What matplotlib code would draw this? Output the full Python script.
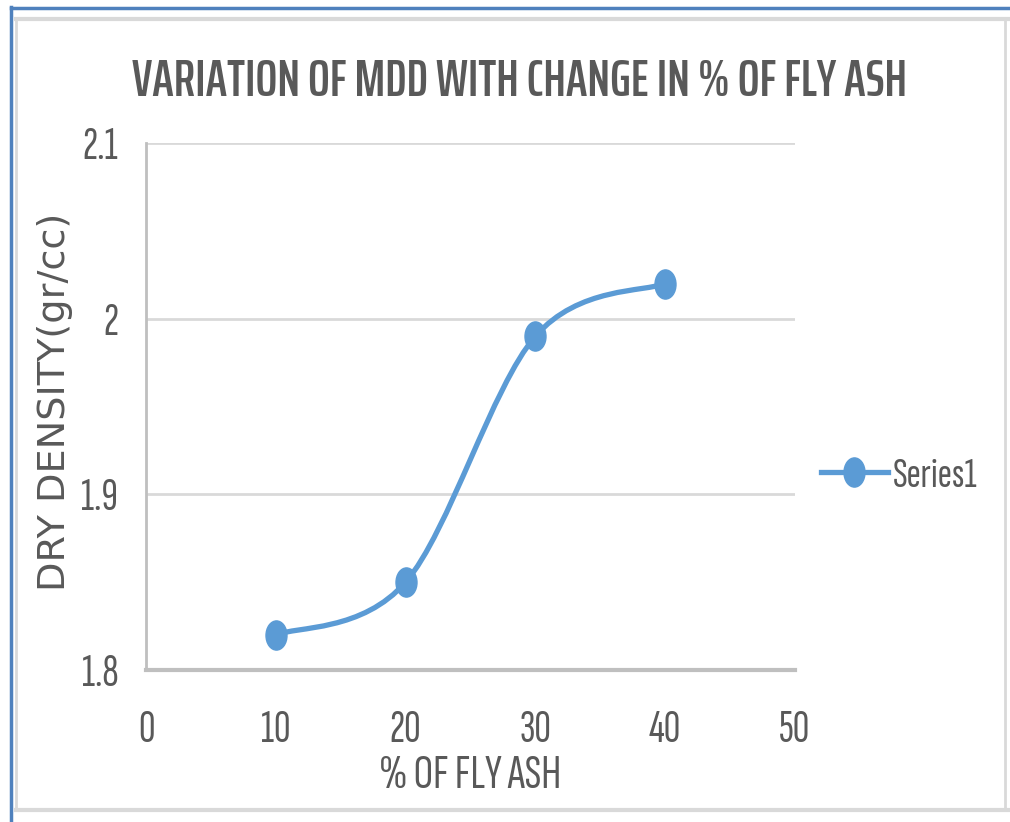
import matplotlib
matplotlib.use("Agg")
import matplotlib.pyplot as plt
from matplotlib.path import Path
from matplotlib.patches import PathPatch
from matplotlib.lines import Line2D
import matplotlib.transforms as mtransforms
import numpy as np

# Data
fly_ash_pct = [10, 20, 30, 40]
dry_density = [1.82, 1.85, 1.99, 2.02]
x_ticks = [0, 10, 20, 30, 40, 50]
y_ticks = [1.8, 1.9, 2.0, 2.1]
y_tick_labels = ["1.8", "1.9", "2", "2.1"]
title = "VARIATION OF MDD WITH CHANGE IN % OF FLY ASH"
x_label = "% OF FLY ASH"
y_label = "DRY DENSITY(gr/cc)"
series_name = "Series1"

COND = ['Sofia Sans Extra Condensed', 'Pathway Gothic One', 'Liberation Sans Narrow', 'DejaVu Sans']
TITLE_FONT = ['Saira ExtraCondensed', 'Barlow Condensed', 'DejaVu Sans']
TXT = '#595959'
BLUE = '#5B9BD5'

fig = plt.figure(figsize=(10.10, 8.22), dpi=100)
ax = fig.add_axes([146/1010, 1-670/822, (795-146)/1010, (670-143)/822])

# smoothed line (Excel-like Catmull-Rom Bezier through the data points)
pts = np.column_stack([fly_ash_pct, dry_density]).astype(float)
verts = [pts[0]]
codes = [Path.MOVETO]
n = len(pts)
for i in range(n - 1):
    p0 = pts[i - 1] if i > 0 else pts[i]
    p1 = pts[i]
    p2 = pts[i + 1]
    p3 = pts[i + 2] if i + 2 < n else pts[i + 1]
    c1 = p1 + (p2 - p0) / 6.0
    c2 = p2 - (p3 - p1) / 6.0
    verts += [c1, c2, p2]
    codes += [Path.CURVE4] * 3
ax.add_patch(PathPatch(Path(verts, codes), facecolor='none', edgecolor=BLUE,
                       lw=3.8, capstyle='round', zorder=3))

ell = Path.unit_circle().transformed(mtransforms.Affine2D().scale(0.72, 1.0))
ax.plot(fly_ash_pct, dry_density, linestyle='none', marker=ell, markersize=21,
        color=BLUE, zorder=4)

ax.set_xlim(0, 50)
ax.set_ylim(1.8, 2.1)
ax.set_xticks(x_ticks)
ax.set_yticks(y_ticks)
ax.set_yticklabels(y_tick_labels)
ax.tick_params(length=0, labelsize=33, labelcolor=TXT)
ax.tick_params(axis='y', pad=20)
ax.tick_params(axis='x', pad=29)
for lab in ax.get_xticklabels() + ax.get_yticklabels():
    lab.set_family(COND)
ax.grid(axis='y', color='#D9D9D9', lw=2)
ax.set_axisbelow(True)
for s in ['top', 'right']:
    ax.spines[s].set_visible(False)
ax.spines['left'].set_color('#BFBFBF')
ax.spines['left'].set_linewidth(2)
ax.spines['bottom'].set_color('#BFBFBF')
ax.spines['bottom'].set_linewidth(3)

fig.text(470/1010, 1-776/822, x_label, ha='center', va='center',
         family=COND, fontsize=35, color=TXT)
fig.text(55/1010, 1-402/822, y_label, rotation=90, ha='center', va='center',
         family='DejaVu Sans', fontsize=27.5, color=TXT)
fig.text(520/1010, 1-82/822, title, ha='center', va='center', family=TITLE_FONT,
         fontsize=37, fontweight=600, color=TXT)

# legend
leg_handle = Line2D([], [], color=BLUE, lw=3.8, marker=ell, markersize=21)
leg = fig.legend([leg_handle], [series_name], loc='center left',
                 bbox_to_anchor=(821/1010, 1-476/822), frameon=False,
                 borderpad=0, borderaxespad=0,
                 handlelength=1.55, handletextpad=0.12,
                 prop={'family': COND, 'size': 31})
for t in leg.get_texts():
    t.set_color(TXT)

# chart border decorations
T = fig.transFigure
fig.add_artist(Line2D([11/1010, 11/1010], [0, 1-7/822], color='#4F81BD', lw=2.5, transform=T))
fig.add_artist(Line2D([11/1010, 1], [1-8/822, 1-8/822], color='#4F81BD', lw=2.5, transform=T))
fig.add_artist(Line2D([16/1010, 1], [1-19/822, 1-19/822], color='#D9D9D9', lw=3, transform=T))
fig.add_artist(Line2D([16/1010, 16/1010], [1-19/822, 1-810/822], color='#D9D9D9', lw=2, transform=T))
fig.add_artist(Line2D([16/1010, 1], [1-810/822, 1-810/822], color='#D9D9D9', lw=3, transform=T))
fig.add_artist(Line2D([1005/1010, 1005/1010], [1-19/822, 1-810/822], color='#D9D9D9', lw=2, transform=T))

fig.savefig('out.png', dpi=100)
